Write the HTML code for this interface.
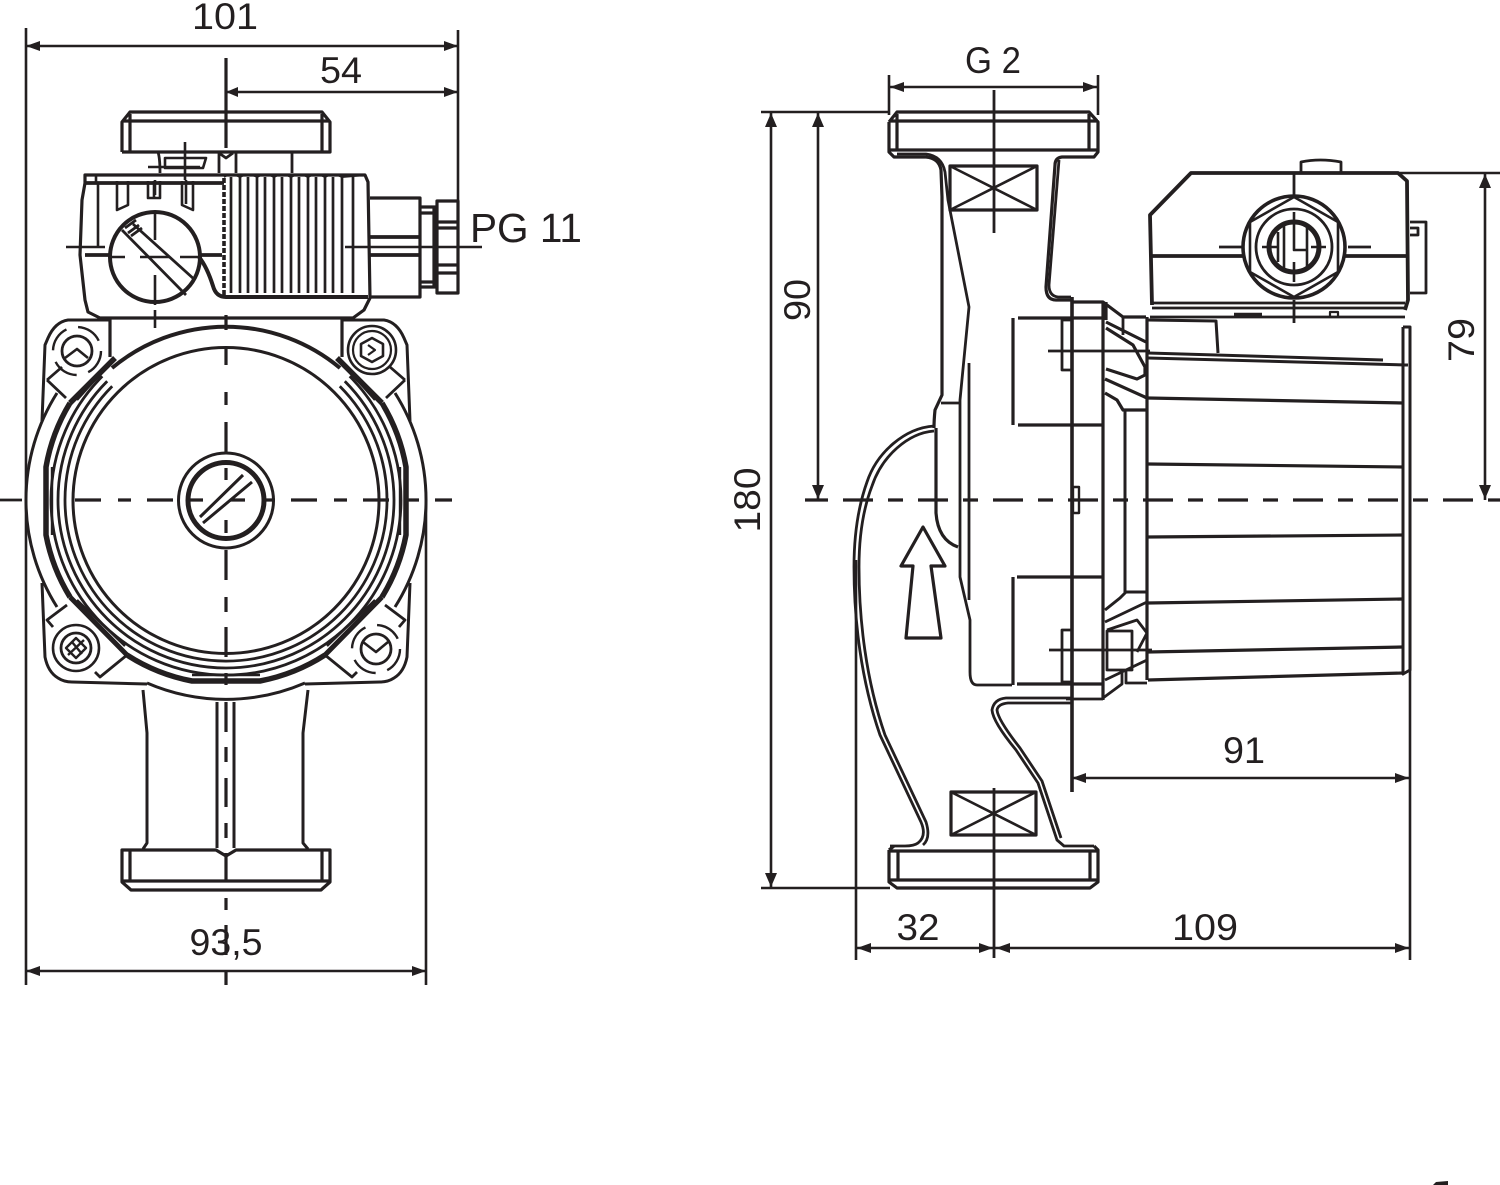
<!DOCTYPE html>
<html><head><meta charset="utf-8"><style>
html,body{margin:0;padding:0;background:#fff}
svg{display:block}
text{font-family:"Liberation Sans",sans-serif;fill:#231f20;font-size:37px}
</style></head><body>
<svg width="1500" height="1185" viewBox="0 0 1500 1185" xmlns="http://www.w3.org/2000/svg">
<g fill="none" stroke="#231f20" stroke-width="2.8" stroke-linejoin="round" stroke-linecap="butt">

<!-- LEFT VIEW: centre lines -->
<path d="M0 500H22"/>
<line x1="75" y1="500" x2="452" y2="500" stroke-width="3.2" stroke-dasharray="26 17 13 16"/>
<path stroke-width="3.2" d="M226 58V148M226 315V330M226 347V365M226 392V405M226 422V452M226 468V480M226 520V533M226 550V580M226 597V612M226 627V657M226 673V685M226 702V732M226 747V762M226 778V807M226 823V838M226 853V882M226 898V910M226 925V955M226 970V985"/>

<!-- top flange -->
<path d="M122 152V122L130 112H322L330 122V152H122M122 121H330M130 114V152M322 114V152" stroke-width="3.2"/>
<path d="M158 152Q160 158 160 173M292 152V173M219 152V173M236 152V173M219 153L226 158L233 153"/>
<path d="M165 168H203L206 158H165ZM185 142V180M148 167H200" stroke-width="2.6"/>

<!-- control box -->
<path d="M85 175H365L368 182L370 298L364 310L353 318H100L88 312L85 300L80 255L82 200L85 183Z" stroke-width="3.2"/>
<path d="M85 183H224" stroke-width="3.8"/>
<path d="M96 176V183M98 183V247M117 181V210L128 205V181M148 181V198H160V181M154 181V198M182 181V205L193 210V181M186 180V204M66 247H105" stroke-width="2.6"/>
<path d="M85 255H110M198 255H222" stroke-width="3.8"/>
<circle cx="155" cy="257" r="45" stroke-width="4"/>
<path d="M122 230L186 295M133 224L195 280M125 228L136 220M128 233L139 225M131 236L142 228" stroke-width="2.8"/>
<path d="M110 257H125M140 257H170M180 257H198M155 180V195M155 212V240M155 275V305M155 310V328" stroke-width="2.6"/>
<path d="M199 257Q207 267 213 286Q216 297 226 297H368" stroke-width="4"/>
<path d="M224 178V297" stroke-width="3.6" stroke-dasharray="5 2"/>
<path d="M231 177V293M240 177V293M248 177V293M257 177V293M265 177V293M274 177V293M282 177V293M291 177V293M299 177V293M308 177V293M316 177V293M325 177V293M333 177V293M342 177V293M353 177V293" stroke-width="2.7"/>
<path d="M224 177Q231 172 240 177Q248 172 257 177Q265 172 274 177Q282 172 291 177Q299 172 308 177Q316 172 325 177Q333 172 342 177L365 175" stroke-width="2"/>

<!-- connector -->
<path d="M370 198H420V297H370M420 207H437M420 213H437M420 282H437M420 287H437M434 207V287" stroke-width="3.2"/>
<path d="M437 201H458V293H437ZM437 222H458M437 228H458M437 265H458M437 273H458" stroke-width="3.2"/>
<path d="M370 237H420M370 255H420" stroke-width="3.8"/>
<path d="M345 247H482" stroke-width="2.6"/>

<!-- body ring -->
<path d="M110 318V357M342 318V357" stroke-width="3.2"/>
<path d="M112 368A178 178 0 0 1 340 368" stroke-width="4"/>
<circle cx="226" cy="500.5" r="153" stroke-width="3"/>
<path d="M112.2 386.2A161 161 0 1 0 339.8 386.2M107.2 381.2A168 168 0 1 0 344.8 381.2M102.3 376.3A175 175 0 1 0 349.7 376.3" stroke-width="2.8"/>
<!-- thick segments -->
<path d="M70 403A184 184 0 0 0 46 467V535A184 184 0 0 0 70 597" stroke-width="5.5"/>
<path d="M382 403A184 184 0 0 1 406 467V535A184 184 0 0 1 382 597" stroke-width="5.5"/>
<path d="M127 655A184 184 0 0 0 192 681H260A184 184 0 0 0 325 655" stroke-width="5.5"/>
<path d="M70 597L127 655M382 597L325 655" stroke-width="5"/>
<path d="M52 467V535M400 467V535M192 675H260" stroke-width="2.4"/>
<path d="M70 403L115 358M382 403L337 358" stroke-width="5.5"/>
<path d="M77 400L110 363M375 400L342 363M77 600L125 646M375 600L327 646" stroke-width="2.4"/>
<!-- outer arcs -->
<path d="M57 393A200 200 0 0 0 57 607M395 393A200 200 0 0 1 395 607M147 683A199 199 0 0 0 305 683" stroke-width="3"/>
<!-- lug outlines -->
<path d="M110 320H68Q55 322 48 338L45 345L42 421M342 320H384Q397 322 404 338L407 345L410 421" stroke-width="3"/>
<path d="M42 583L45 657Q48 672 58 678Q64 682 72 682L147 684M410 583L407 657Q404 672 394 678Q388 682 380 682L305 684" stroke-width="3"/>
<!-- lug squares -->
<path d="M47 380L66 398M47 380L62 367M405 380L386 398M405 380L390 367" stroke-width="2.8"/>
<path d="M53 627L47 620L67 605M95 672L100 677L127 655M399 627L405 620L385 605M357 672L352 677L325 655" stroke-width="2.8"/>
<!-- lug TL -->
<circle cx="77" cy="351" r="15" stroke-width="2.8"/>
<circle cx="77" cy="351" r="24" stroke-width="2.4" stroke-dasharray="26 12"/>
<path d="M65 358L77 349L88 358" stroke-width="2.6"/>
<!-- lug TR -->
<circle cx="372" cy="350" r="24" stroke-width="2.6"/>
<circle cx="372" cy="350" r="19" stroke-width="2.2"/>
<path d="M372 338L383 344V356L372 362L361 356V344Z" stroke-width="2.6"/>
<path d="M368 345L375 350L368 355" stroke-width="2.2"/>
<!-- lug BL -->
<circle cx="76" cy="648" r="15" stroke-width="2.8"/>
<circle cx="76" cy="648" r="23" stroke-width="2.6"/>
<path d="M66 648L76 638L86 648L76 658ZM68 655L84 640M72 642L82 654" stroke-width="2.4"/>
<!-- lug BR -->
<circle cx="376" cy="649" r="15" stroke-width="2.8"/>
<circle cx="376" cy="649" r="24" stroke-width="2.4" stroke-dasharray="26 12"/>
<path d="M363 642L376 652L388 642" stroke-width="2.6"/>
<!-- hub -->
<circle cx="226" cy="500.5" r="47.5" stroke-width="3"/>
<circle cx="226" cy="500.5" r="38" stroke-width="5"/>
<path d="M200 517L243 475L252 482L203 523Z" fill="#fff" stroke="none"/>
<path d="M200 517L243 475M203 523L252 482" stroke-width="3"/>

<!-- bottom neck + flange -->
<path d="M143 690L147 733V843L143 849M308 690L303 733V843L308 849M217 702V848M234 702V848" stroke-width="3"/>
<path d="M122 850H216L226 856L236 850H330V882L321 890H131L122 882ZM122 881H330M130 850V881M322 850V881" stroke-width="3.2"/>

<!-- LEFT DIMENSIONS -->
<path d="M26 28V985M458 30V200M426 500V985M26 46H458M226 92H458M26 971H426" stroke-width="2.6"/>

<!-- RIGHT VIEW -->
<path d="M805 500H828" stroke-width="3.2"/>
<line x1="843" y1="500" x2="1500" y2="500" stroke-width="3.2" stroke-dasharray="30 15 15 15"/>
<path d="M994 90V233M994 788V958"/>
<!-- top flange -->
<path d="M889 122L897 112H1089L1098 122V152L1094 157H1062Q1055 158 1055 165L1046 287Q1046 300 1056 300H1071M889 122V152L894 157H926Q939 158 941 170L942 197V395L935 410Q934 420 934 428M889 121H1098M889 150H1098M897 114V150M1089 114V150" stroke-width="3.2"/>
<path d="M897 154H926Q942 156 945 172L948 200L969 307L960 400V577L970 620V672Q970 685 977 685H1012M1059 160L1049 285Q1049 296 1058 297H1071" stroke-width="2.8"/>
<path d="M941 403H960M969 363V600" stroke-width="2.8"/>
<rect x="950" y="166" width="87" height="44" stroke-width="3.2"/>
<path d="M950 166L1037 210M1037 166L950 210" stroke-width="2.6"/>

<!-- volute -->
<path d="M934 426C905 428 877 452 867 482C857 510 854 540 854 567C854 620 861 680 880 735L921 822Q927 836 918 843Q914 846 905 846H890" stroke-width="2.8"/>
<path d="M934 431C908 433 882 456 872 486C862 512 859 540 859 567C859 620 866 680 885 735L926 822Q931 838 923 845" stroke-width="2.8"/>
<path d="M936 428V513Q938 540 958 547" stroke-width="3.2"/>

<!-- arrow -->
<path d="M923 527L901 566H913L906 638H941L931 566H945Z" stroke-width="3.2"/>

<!-- lower neck -->
<path d="M1071 698H1006Q994 699 992 710Q993 722 1016 750L1038 783L1057 840L1064 846H1094" stroke-width="2.8"/>
<path d="M1071 703H1008Q998 704 997 710Q998 720 1020 748L1042 781L1061 838" stroke-width="2.8"/>
<rect x="951" y="792" width="85" height="43" stroke-width="3.2"/>
<path d="M951 792L1036 835M1036 792L951 835" stroke-width="2.6"/>
<path d="M889 850V882L897 888H1090L1098 882V850L1094 846M889 850L894 846M889 851H1098M889 880H1098M898 851V880M1090 851V880" stroke-width="3.2"/>

<!-- flange block -->
<path d="M1072 297V792" stroke-width="3.6"/>
<path d="M1072 302H1103L1123 317H1146M1103 302V700M1106 302V320" stroke-width="3.2"/>
<path d="M1123 317V335" stroke-width="2.8"/>
<path d="M1106 322L1146 342M1106 328L1133 345L1145 367V375L1137 379L1106 369M1105 379L1147 398M1105 393L1117 400L1123 410H1146" stroke-width="3.2"/>
<path d="M1125 410V592H1147M1105 610L1120 598L1126 592" stroke-width="3"/>
<path d="M1147 317V680" stroke-width="3.2"/>
<path d="M1105 622L1147 602M1107 631H1132V670H1107ZM1107 630L1137 620L1147 633L1137 652M1105 680L1147 660M1126 670V683H1147M1103 698L1122 684V672M1066 699H1103" stroke-width="2.8"/>
<path d="M1018 318H1103M1018 425H1103M1013 318V425M1017 577H1103M1013 577V685M1017 684H1103" stroke-width="3.2"/>
<path d="M1071 320H1062V370H1071M1071 630H1062V682H1071"/>
<path d="M1048 351H1150M1049 650H1152"/>
<rect x="1073" y="487" width="6" height="26" stroke-width="2.4"/>

<!-- control head -->
<path d="M1152 305L1150 215L1191 173H1398L1407 181L1408 300L1405 310" stroke-width="3.8"/>
<path d="M1150 256H1245M1345 256H1408" stroke-width="3.8"/>
<path d="M1152 303H1405M1152 308H1405M1150 317H1405"/>
<path d="M1234 315H1262" stroke-width="4.5"/>
<path d="M1330 318V312H1338V318" stroke-width="2.2"/>
<path d="M1301 172V162Q1320 158 1341 162V172"/>
<path d="M1294 173V195M1294 300V323M1219 247H1243M1348 247H1371"/>
<circle cx="1294" cy="247" r="51" stroke-width="3.6"/>
<path d="M1294 197L1338 222V272L1294 297L1250 272V222Z" stroke-width="2.6"/>
<circle cx="1294" cy="247" r="38"/>
<circle cx="1294" cy="247" r="25" stroke-width="5"/>
<path d="M1284 225V270M1307 225V270M1294 212V250H1307M1278 232V262M1262 247H1277M1311 247H1326M1294 262V282" stroke-width="2.6"/>
<path d="M1410 222H1426V293H1410M1410 228H1418V235H1410"/>

<!-- motor -->
<path d="M1148 320L1216 321L1218 353M1148 353L1383 360M1148 358L1408 365M1403 327H1410V670L1403 674V327M1403 358V365" stroke-width="3"/>
<path d="M1148 398L1403 403M1148 464L1403 467M1148 537L1403 535M1148 603L1403 599M1148 652L1403 647M1148 680L1403 673" stroke-width="3.2"/>

<!-- RIGHT DIMENSIONS -->
<path d="M889 75V115M1098 75V115M889 87H1098M761 112H890M761 888H890M771 112V888M818 112V500M1398 173H1500M1485 173V500M1071 778H1410M856 560V960M1410 660V960M856 948H1410" stroke-width="2.6"/>
</g>

<!-- arrowheads -->
<g fill="#231f20" stroke="none">
<path d="M26 46l14-5v10zM458 46l-14-5v10zM226 92l12-5v10zM458 92l-14-5v10zM26 971l14-5v10zM426 971l-14-5v10z"/>
<path d="M890 87l14-5v10zM1097 87l-14-5v10zM771 113l-6 14h12zM771 887l-6-14h12zM818 113l-6 14h12zM818 499l-6-14h12zM1485 174l-6 14h12zM1485 499l-6-14h12z"/>
<path d="M1072 778l14-5v10zM1409 778l-14-5v10zM857 948l14-5v10zM993 948l-14-5v10zM996 948l14-5v10zM1409 948l-14-5v10z"/>
<path d="M1433 1185L1436 1182L1448 1181L1448 1185Z"/>
</g>

<!-- LABELS -->
<text x="225" y="29" text-anchor="middle" textLength="66" lengthAdjust="spacingAndGlyphs">101</text>
<text x="341" y="83" text-anchor="middle" textLength="42" lengthAdjust="spacingAndGlyphs">54</text>
<text x="470" y="242" textLength="112" lengthAdjust="spacingAndGlyphs" style="font-size:41px">PG 11</text>
<text x="226" y="955" text-anchor="middle" textLength="73" lengthAdjust="spacingAndGlyphs">93,5</text>
<text x="993" y="73" text-anchor="middle" textLength="56" lengthAdjust="spacingAndGlyphs">G 2</text>
<text transform="translate(760 500) rotate(-90)" text-anchor="middle" textLength="65" lengthAdjust="spacingAndGlyphs">180</text>
<text transform="translate(810 300) rotate(-90)" text-anchor="middle" textLength="42" lengthAdjust="spacingAndGlyphs">90</text>
<text transform="translate(1474 340) rotate(-90)" text-anchor="middle" textLength="44" lengthAdjust="spacingAndGlyphs">79</text>
<text x="1244" y="763" text-anchor="middle" textLength="42" lengthAdjust="spacingAndGlyphs">91</text>
<text x="918" y="940" text-anchor="middle" textLength="43" lengthAdjust="spacingAndGlyphs">32</text>
<text x="1205" y="940" text-anchor="middle" textLength="66" lengthAdjust="spacingAndGlyphs">109</text>
</svg>
</body></html>
